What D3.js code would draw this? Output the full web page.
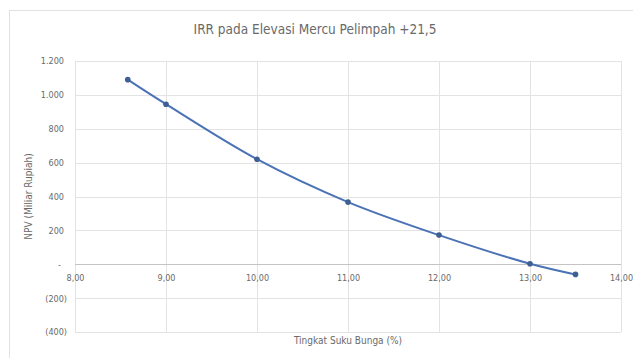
<!DOCTYPE html>
<html><head><meta charset="utf-8">
<script src="https://cdn.jsdelivr.net/npm/d3@7"></script>
<style>
html,body{margin:0;padding:0;background:#fff;}
svg{display:block;}
text{font-family:"Liberation Sans Narrow","DejaVu Sans Condensed","Liberation Sans",sans-serif;fill:#6a6a6a;}
</style></head>
<body>
<svg id="c" width="633" height="358"></svg>
<script>
const rates = [8.58, 9.00, 10.00, 11.00, 12.00, 13.00, 13.50];
const npv = [1090, 945, 620, 367, 172, 3, -60];
const xTicks = [8, 9, 10, 11, 12, 13, 14];
const yTicks = [-400, -200, 0, 200, 400, 600, 800, 1000, 1200];
const chartTitle = "IRR pada Elevasi Mercu Pelimpah +21,5";
const xTitle = "Tingkat Suku Bunga (%)";
const yTitle = "NPV (Miliar Rupiah)";

(function () {
const svg = d3.select("#c");
const pL = 75, pR = 621, pT = 61, pB = 332;

svg.append("rect").attr("x", 9.5).attr("y", 10.5).attr("width", 640).attr("height", 360)
  .attr("fill", "#fff").attr("stroke", "#e2e2e2");

const x = d3.scaleLinear().domain([8, 14]).range([pL, pR]);
const y = d3.scaleLinear().domain([-400, 1200]).range([pB, pT]);

svg.append("g").selectAll("line").data(yTicks).join("line")
  .attr("x1", pL).attr("x2", pR)
  .attr("y1", d => Math.round(y(d)) + 0.5).attr("y2", d => Math.round(y(d)) + 0.5)
  .attr("stroke", "#e3e3e3").attr("stroke-width", 1);
svg.append("g").selectAll("line").data(xTicks).join("line")
  .attr("y1", pT).attr("y2", pB)
  .attr("x1", d => Math.round(x(d)) + 0.5).attr("x2", d => Math.round(x(d)) + 0.5)
  .attr("stroke", "#e3e3e3").attr("stroke-width", 1);

svg.append("line").attr("x1", pL).attr("x2", pR)
  .attr("y1", Math.round(y(0)) + 0.5).attr("y2", Math.round(y(0)) + 0.5)
  .attr("stroke", "#c4c4c4").attr("stroke-width", 1.2);

const fmtY = d => {
  if (d === 0) return "-";
  const s = d3.format(",")(Math.abs(d)).replace(/,/g, ".");
  return d < 0 ? "(" + s + ")" : s;
};
const yAxis = svg.append("g").attr("transform", "translate(67,0)")
  .call(d3.axisLeft(y).tickValues(yTicks).tickFormat(fmtY).tickSize(0).tickPadding(0));
yAxis.select(".domain").remove();
yAxis.selectAll("text").attr("font-size", 9).attr("fill", "#6a6a6a")
  .attr("font-family", '"Liberation Sans Narrow","DejaVu Sans Condensed",sans-serif')
  .attr("dx", d => d > 0 ? -3 : (d === 0 ? -6 : 0));

const fmtX = d => d3.format(".2f")(d).replace(".", ",");
const xAxis = svg.append("g").attr("transform", `translate(0,${y(0)})`)
  .call(d3.axisBottom(x).tickValues(xTicks).tickFormat(fmtX).tickSize(0).tickPadding(10));
xAxis.select(".domain").remove();
xAxis.selectAll("text").attr("font-size", 9).attr("fill", "#6a6a6a")
  .attr("font-family", '"Liberation Sans Narrow","DejaVu Sans Condensed",sans-serif');

const pts = rates.map((r, i) => [r, npv[i]]);
const line = d3.line().x(d => x(d[0])).y(d => y(d[1])).curve(d3.curveCatmullRom.alpha(0.5));
svg.append("path").attr("d", line(pts)).attr("fill", "none")
  .attr("stroke", "#4a72b5").attr("stroke-width", 2);
svg.append("g").selectAll("circle").data(pts).join("circle")
  .attr("cx", d => x(d[0])).attr("cy", d => y(d[1])).attr("r", 2.8)
  .attr("fill", "#3e5f92");

svg.append("text").attr("x", 315).attr("y", 30).attr("text-anchor", "middle")
  .attr("dominant-baseline", "middle").attr("font-size", 13.5).attr("fill", "#5e5e5e").text(chartTitle);
svg.append("text").attr("x", (pL + pR) / 2).attr("y", 341).attr("text-anchor", "middle")
  .attr("dominant-baseline", "middle").attr("font-size", 10).text(xTitle);
svg.append("text").attr("transform", `translate(29,${(pT + pB) / 2}) rotate(-90)`)
  .attr("text-anchor", "middle").attr("dominant-baseline", "middle").attr("font-size", 10).text(yTitle);
})();
</script>
</body></html>
